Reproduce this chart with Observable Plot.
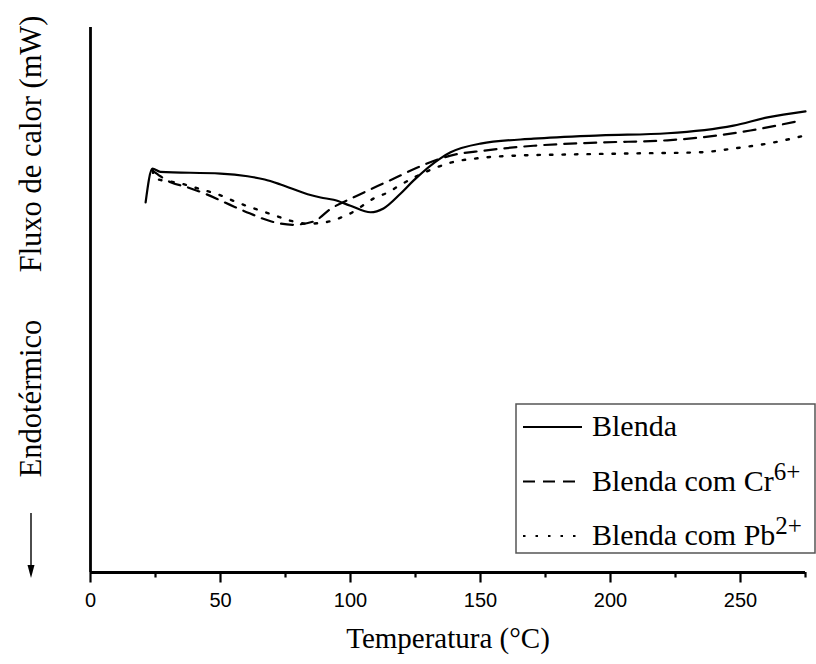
<!DOCTYPE html>
<html><head><meta charset="utf-8">
<script src="https://cdn.jsdelivr.net/npm/d3@7"></script>
<script src="https://cdn.jsdelivr.net/npm/@observablehq/plot@0.6"></script>
<style>body{margin:0;background:#fff} #chart{width:816px;height:664px}</style>
</head><body><div id="chart"></div>
<script>
// Series names and superscripts (legend)
const seriesNames = ["Blenda", "Blenda com Cr", "Blenda com Pb"];
const seriesSup = ["", "6+", "2+"];

// Temperatura (°C) and heat-flow (arbitrary units)
const blendaT = [21.2, 23.8, 26.9, 50, 60.4, 67.0, 73.1, 83.5, 88.5, 93.5, 100.0, 107.7, 112.7, 119.2, 124.2, 134.6, 138.5, 150, 170.4, 196.2, 221.9, 247.3, 260.4, 275];
const blendaY = [67.9, 74.1, 73.5, 73.2, 72.7, 72.1, 71.2, 69.4, 68.8, 68.4, 67.3, 66.1, 66.8, 69.5, 71.9, 76.0, 77.1, 78.7, 79.6, 80.2, 80.6, 82.0, 83.5, 84.6];

const crT = [23.8, 26.9, 30.8, 36.5, 44.6, 53.5, 61.2, 69.6, 77.7, 85.8, 92.3, 101.9, 110.4, 118.1, 126.2, 138.5, 151.2, 170.4, 196.2, 221.9, 241.2, 253.8, 271.9];
const crY = [73.8, 72.7, 71.6, 70.8, 69.4, 67.5, 65.9, 64.4, 63.8, 64.4, 66.7, 69.0, 70.9, 72.6, 74.4, 76.5, 77.4, 78.3, 78.9, 79.3, 80.2, 81.1, 82.8];

const pbT = [23.8, 25, 34.6, 40.4, 50, 55.4, 60.4, 65.4, 70.4, 75.8, 83.5, 89.6, 95, 99.6, 104.6, 108.8, 114.2, 118.8, 125.8, 131.9, 138.5, 148.8, 164.2, 183.5, 208.8, 234.6, 247.3, 260.4, 275];
const pbY = [73.8, 72.3, 71.4, 70.6, 69.2, 68.1, 67.2, 66.4, 65.6, 64.7, 64.0, 64.2, 64.9, 65.8, 67.3, 68.6, 69.7, 71.0, 72.8, 74.1, 75.2, 76.0, 76.5, 76.7, 76.9, 77.1, 77.8, 78.7, 80.2];

// Axis ticks
const majorTicks = [0, 50, 100, 150, 200, 250];
const minorTicks = [25, 75, 125, 175, 225, 275];
const xTitle = "Temperatura (°C)";
const yTitleTop = "Fluxo de calor (mW)";
const yTitleBottom = "Endotérmico";

const toRows = (T, Y, name) => T.map((t, i) => ({series: name, T: t, v: Y[i]}));
const rowsBlenda = toRows(blendaT, blendaY, seriesNames[0]);
const rowsCr = toRows(crT, crY, seriesNames[1]);
const rowsPb = toRows(pbT, pbY, seriesNames[2]);

const serif = "'Liberation Serif', 'Times New Roman', serif";
const sans = "'Liberation Sans', Arial, sans-serif";
const dashes = [null, "12,8", "2.5,10"];

const legendMark = (index, scales, values, dim) => {
  const g = d3.create("svg:g");
  const right = dim.width - 1, left = right - 299, top = 404, h = 149;
  g.append("rect").attr("x", left).attr("y", top).attr("width", right - left).attr("height", h)
    .attr("fill", "white").attr("stroke", "#555").attr("stroke-width", 1.5);
  seriesNames.forEach((name, i) => {
    const yl = top + 23 + i * 54.5;
    const ln = g.append("line").attr("x1", left + 7).attr("x2", left + 66)
      .attr("y1", yl).attr("y2", yl).attr("stroke", "black").attr("stroke-width", 2);
    if (dashes[i]) ln.attr("stroke-dasharray", dashes[i]);
    const t = g.append("text").attr("x", left + 76).attr("y", yl + 9)
      .attr("text-anchor", "start")
      .attr("font-family", serif).attr("font-size", 30).attr("fill", "black");
    t.append("tspan").text(name);
    if (seriesSup[i]) t.append("tspan").attr("dy", -11).attr("font-size", 25).text(seriesSup[i]);
  });
  return g.node();
};

const arrowMark = (index, scales, values, dim) => {
  const g = d3.create("svg:g");
  const x = dim.marginLeft - 59;
  const y1 = dim.height - dim.marginBottom - 59, y2 = dim.height - dim.marginBottom + 6;
  g.append("line").attr("x1", x).attr("x2", x).attr("y1", y1).attr("y2", y2 - 10)
    .attr("stroke", "black").attr("stroke-width", 1.4);
  g.append("path").attr("d", `M${x - 3.5},${y2 - 13}L${x + 3.5},${y2 - 13}L${x},${y2}Z`).attr("fill", "black");
  return g.node();
};

const chart = Plot.plot({
  width: 816, height: 664,
  marginLeft: 90, marginRight: 11, marginTop: 27, marginBottom: 92,
  style: {fontFamily: sans, fontSize: "20px", background: "white", color: "black", overflow: "visible"},
  x: {domain: [0, 275]},
  y: {domain: [0, 100], axis: null},
  marks: [
    Plot.axisX({ticks: minorTicks, tickSize: 5.5, tickFormat: () => "", strokeWidth: 2.2, label: null}),
    Plot.axisX({ticks: majorTicks, tickSize: 10.5, tickPadding: 9.5, fontSize: 20, strokeWidth: 2.2, label: null, tickFormat: d3.format("d")}),
    Plot.ruleY([0], {strokeWidth: 2.8}),
    Plot.ruleX([0], {strokeWidth: 2.8}),
    Plot.line(rowsBlenda, {x: "T", y: "v", stroke: "black", strokeWidth: 2.2, curve: "monotone-x"}),
    Plot.line(rowsCr, {x: "T", y: "v", stroke: "black", strokeWidth: 2.2, strokeDasharray: dashes[1], curve: "monotone-x"}),
    Plot.line(rowsPb, {x: "T", y: "v", stroke: "black", strokeWidth: 2.4, strokeDasharray: dashes[2], curve: "monotone-x"}),
    Plot.text([xTitle], {text: d => d, frameAnchor: "bottom", textAnchor: "middle", lineAnchor: "bottom", dy: 75, fontSize: 29, fontFamily: serif, fill: "black"}),
    Plot.text([yTitleTop], {text: d => d, frameAnchor: "top-left", textAnchor: "middle", rotate: -90, lineAnchor: "bottom", dx: -50, dy: 116.5, fontSize: 30.5, fontFamily: serif, fill: "black"}),
    Plot.text([yTitleBottom], {text: d => d, frameAnchor: "top-left", textAnchor: "middle", rotate: -90, lineAnchor: "bottom", dx: -50, dy: 371, fontSize: 30.5, fontFamily: serif, fill: "black"}),
    arrowMark,
    legendMark
  ]
});
document.getElementById("chart").appendChild(chart);
</script>
</body></html>
